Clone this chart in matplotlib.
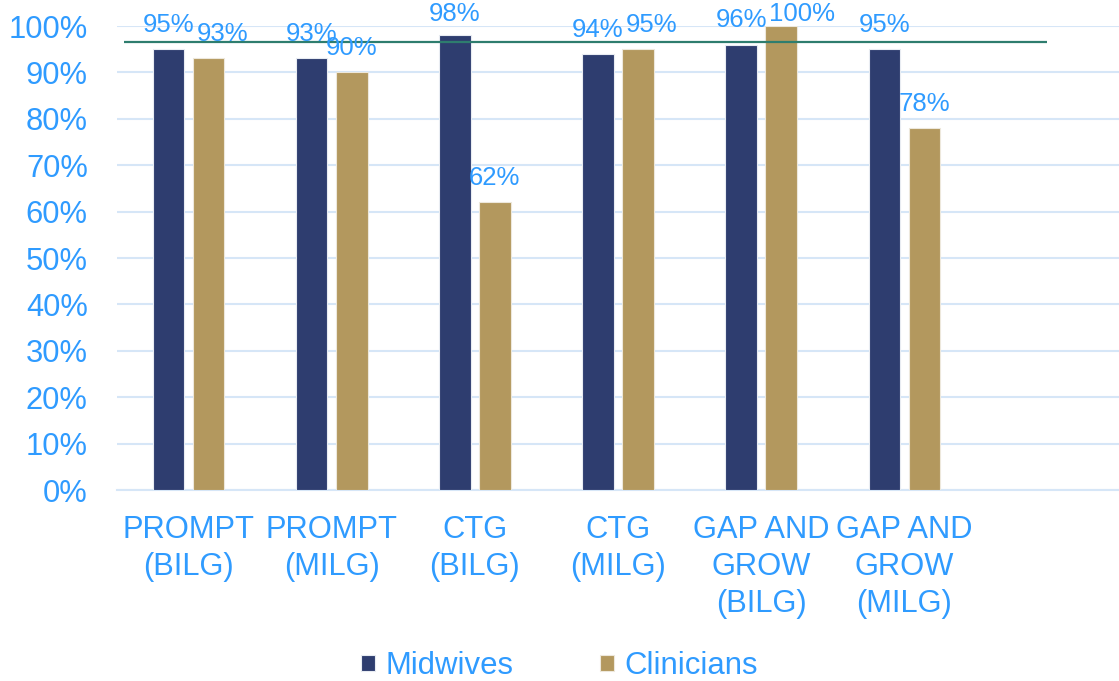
import matplotlib
matplotlib.use("Agg")
import matplotlib.pyplot as plt
import numpy as np

categories = ["PROMPT\n(BILG)", "PROMPT\n(MILG)", "CTG\n(BILG)", "CTG\n(MILG)",
              "GAP AND\nGROW\n(BILG)", "GAP AND\nGROW\n(MILG)", ""]
midwives = [95, 93, 98, 94, 96, 95]
clinicians = [93, 90, 62, 95, 100, 78]
target = 96.5
series_names = ["Midwives", "Clinicians"]
yticks = [0, 10, 20, 30, 40, 50, 60, 70, 80, 90, 100]

navy = "#2E3D6F"
gold = "#B3985E"
blue_text = "#2F9BFF"
grid_col = "#D6E6F7"
green = "#2E7D6E"

plt.rcParams['font.family'] = ['Liberation Sans', 'DejaVu Sans']

fig = plt.figure(figsize=(11.19, 6.81), dpi=100)
ax = fig.add_axes([117/1119, 191/681, 1 - 117/1119, (490-26)/681])

x = np.arange(len(categories))
w = 0.22
off = 0.14
n = len(midwives)
b1 = ax.bar(x[:n] - off, midwives, w, color=navy, edgecolor="#E8ECF2", linewidth=0.8,
            label=series_names[0], zorder=3)
b2 = ax.bar(x[:n] + off, clinicians, w, color=gold, edgecolor="#EDE8DC", linewidth=0.8,
            label=series_names[1], zorder=3)

ax.set_xlim(-0.5, len(categories) - 0.5)
ax.set_ylim(0, 100)

label_gap = 5.2   # data units between bar top and label centre
label_cap = 102.5  # labels are kept inside the chart area
labels = []
for bars, vals in ((b1, midwives), (b2, clinicians)):
    row = []
    for r, v in zip(bars, vals):
        t = ax.text(r.get_x() + r.get_width() / 2, min(v + label_gap, label_cap), f"{v}%",
                    ha="center", va="center", fontsize=18.5, color=blue_text,
                    zorder=5, clip_on=False)
        row.append(t)
    labels.append(row)

ax.hlines(target, -0.45, 6.0, color=green, linewidth=1.6, zorder=4)

ax.set_yticks(yticks)
ax.set_yticklabels([f"{t}%" for t in yticks])
ax.set_xticks(x)
ax.set_xticklabels(categories, linespacing=1.3)
ax.tick_params(axis="y", length=0, pad=21, labelsize=22.2, labelcolor=blue_text)
ax.tick_params(axis="x", length=0, pad=18, labelsize=22.2, labelcolor=blue_text)
ax.grid(axis="y", color=grid_col, linewidth=1.5, zorder=0)
ax.set_axisbelow(True)
for s in ("top", "right", "left"):
    ax.spines[s].set_visible(False)
ax.spines["bottom"].set_color(grid_col)
ax.spines["bottom"].set_linewidth(1.5)

leg = fig.legend(handles=[b1, b2], labels=series_names, loc="center",
                 bbox_to_anchor=(0.5, 1 - 666/681), ncol=2, frameon=False,
                 fontsize=22.4, handlelength=0.45, handleheight=0.45,
                 handletextpad=0.32, columnspacing=2.8, labelcolor=blue_text)

# nudge clinician labels right where they collide closely with the midwife label
fig.canvas.draw()
renderer = fig.canvas.get_renderer()
inv = ax.transData.inverted()
for tm, tc in zip(labels[0], labels[1]):
    bm = tm.get_window_extent(renderer)
    bc = tc.get_window_extent(renderer)
    dy = abs((bm.y0 + bm.y1) / 2 - (bc.y0 + bc.y1) / 2)
    if dy < 12 and bc.x0 < bm.x1:
        shift_px = bm.x1 - bc.x0 + 2
        x0d = inv.transform((0, 0))[0]
        x1d = inv.transform((shift_px, 0))[0]
        px, py = tc.get_position()
        tc.set_position((px + (x1d - x0d), py))

fig.savefig("out.png", dpi=100)
